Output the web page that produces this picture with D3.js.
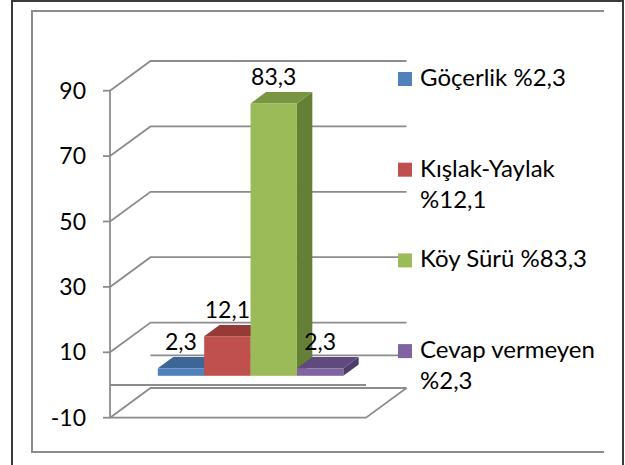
<!DOCTYPE html>
<html>
<head>
<meta charset="utf-8">
<script src="https://cdn.jsdelivr.net/npm/d3@7"></script>
<style>
  body { margin: 0; background: #fff; }
  text { font-family: Lato, "Noto Sans", sans-serif; fill: #000; }
</style>
</head>
<body>
<svg width="625" height="465"></svg>
<script>
const series = ["Göçerlik", "Kışlak-Yaylak", "Köy Sürü", "Cevap vermeyen"];
const values = [2.3, 12.1, 83.3, 2.3];
const valueLabels = ["2,3", "12,1", "83,3", "2,3"];
const legendLines = [["Göçerlik %2,3"], ["Kışlak-Yaylak", "%12,1"], ["Köy Sürü %83,3"], ["Cevap vermeyen", "%2,3"]];
const ticks = [-10, 10, 30, 50, 70, 90];
const frontColors = ["#4F81BD", "#C0504D", "#9BBB59", "#8064A2"];
const topColors = ["#3D6596", "#953A37", "#789642", "#604A7D"];
const sideColors = ["#385D8A", "#7D302E", "#657F37", "#4F3D69"];

const svg = d3.select("svg");

// frames
svg.append("path").attr("d", "M12,465V1H623V465")
    .attr("fill", "none").attr("stroke", "#3a3a3a").attr("stroke-width", 2);
svg.append("path").attr("d", "M604,11H32V452H604")
    .attr("fill", "none").attr("stroke", "#8c8c8c").attr("stroke-width", 2);

const x0 = 110, x1 = 366;
const dx = 40.5, dy = -29.7;   // full depth of the box

const y = d3.scaleLinear().domain([-10, 90]).range([417.7, 90.7]);
const x = d3.scaleBand().domain(series).range([x0, x1]).paddingInner(0).paddingOuter(0.76);

const grid = svg.append("g").attr("fill", "none").attr("stroke", "#8c8c8c").attr("stroke-width", 1.8);

// back wall gridlines + left wall diagonals
ticks.forEach(t => {
    grid.append("path")
        .attr("d", `M${x0},${y(t)}L${x0 + dx},${y(t) + dy}H${x1 + dx}`);
});
// floor
grid.append("path")
    .attr("d", `M${x0},${y(-10)}H${x1}L${x1 + dx},${y(-10) + dy}`);
// value 0 plane edges
grid.append("path").attr("d", `M${x0},${y(0)}H${x1}`);
grid.append("path").attr("d", `M${x0 + dx},${y(0) + dy}H${x1 + dx}`);
// vertical axis
grid.append("path").attr("d", `M${x0},${y(90)}V${y(-10)}`);

// ticks
const axis = svg.append("g");
ticks.forEach(t => {
    axis.append("line")
        .attr("x1", x0 - 7).attr("x2", x0)
        .attr("y1", y(t)).attr("y2", y(t))
        .attr("stroke", "#8c8c8c").attr("stroke-width", 1.8);
    axis.append("text")
        .attr("x", 86).attr("y", y(t)).attr("dy", "0.35em")
        .attr("text-anchor", "end").attr("font-size", 23)
        .text(t);
});

// bars: sit at the middle of the depth
const f0 = 0.31, f1 = 0.69;
const bx = dx * f0, by = dy * f0;
const ddx = dx * (f1 - f0), ddy = dy * (f1 - f0);

const bars = svg.append("g");
series.forEach((s, i) => {
    const left = x(s) + bx, w = x.bandwidth();
    const top = y(values[i]) + by, base = y(0) + by;
    const g = bars.append("g");
    g.append("path")
        .attr("d", `M${left + w},${top}L${left + w + ddx},${top + ddy}V${base + ddy}L${left + w},${base}Z`)
        .attr("fill", sideColors[i]);
    g.append("path")
        .attr("d", `M${left},${top}L${left + ddx},${top + ddy}H${left + w + ddx}L${left + w},${top}Z`)
        .attr("fill", topColors[i]);
    g.append("rect")
        .attr("x", left).attr("y", top)
        .attr("width", w).attr("height", base - top)
        .attr("fill", frontColors[i]);
});

// data labels
series.forEach((s, i) => {
    svg.append("text")
        .attr("x", x(s) + bx + x.bandwidth() / 2)
        .attr("y", y(values[i]) + by + ddy - 7)
        .attr("text-anchor", "middle").attr("font-size", 23)
        .text(valueLabels[i]);
});

// legend
const legend = svg.append("g");
legendLines.forEach((lines, i) => {
    const base = 86 + i * 90.7;
    legend.append("rect")
        .attr("x", 398).attr("y", base - 14)
        .attr("width", 14).attr("height", 14)
        .attr("fill", frontColors[i]);
    lines.forEach((l, j) => {
        legend.append("text")
            .attr("x", 420).attr("y", base + j * 31)
            .attr("font-size", 24)
            .text(l);
    });
});
</script>
</body>
</html>
